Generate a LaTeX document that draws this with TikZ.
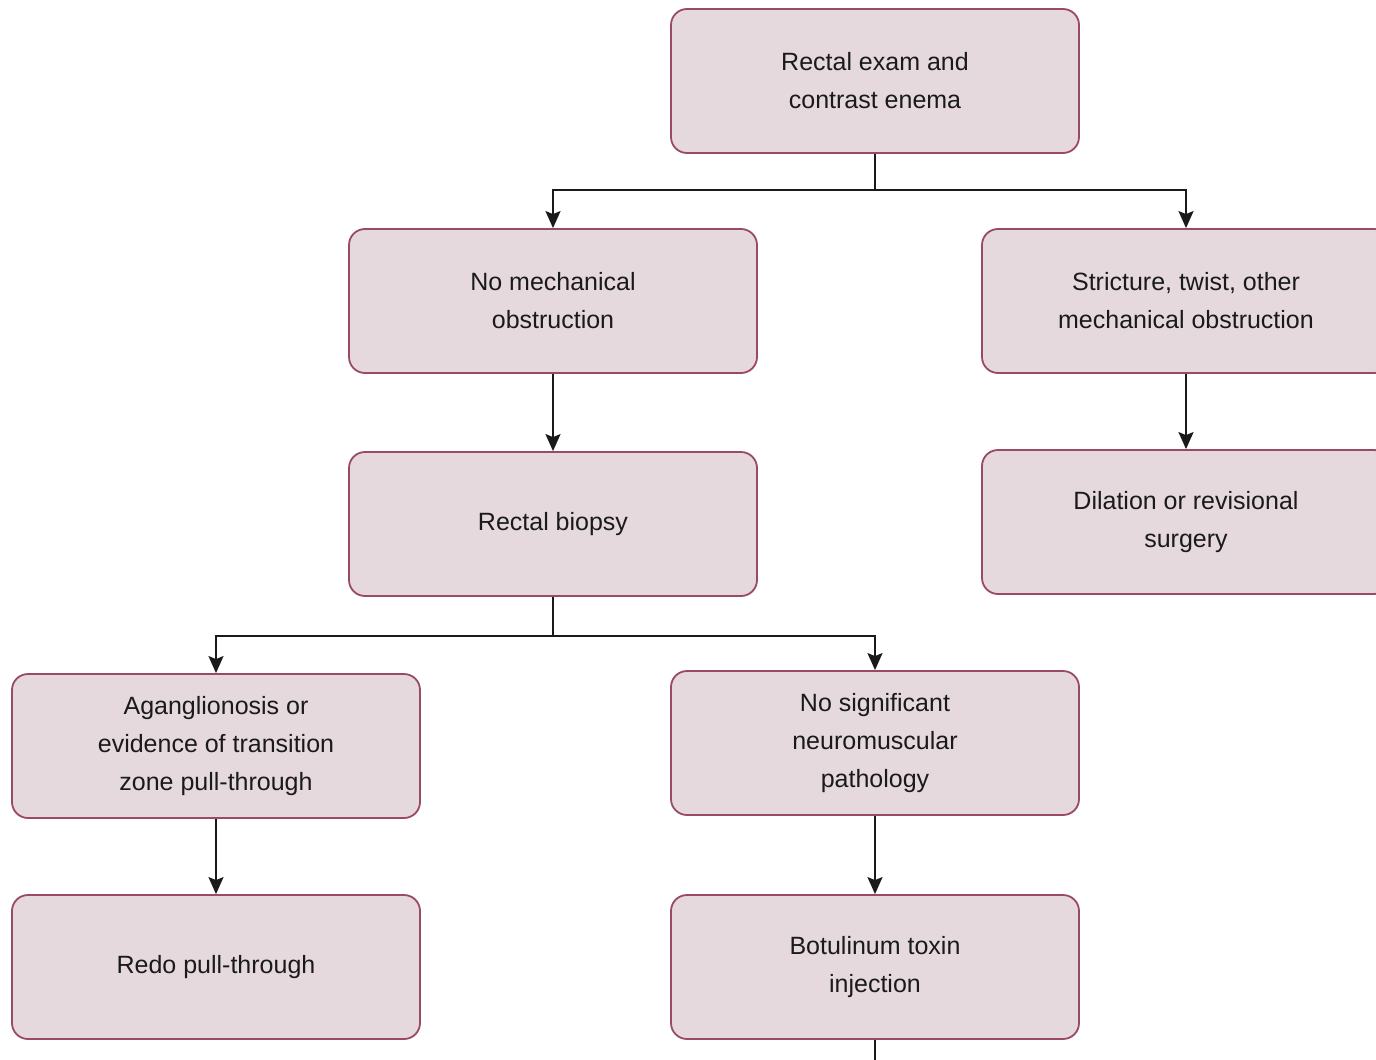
\documentclass[tikz,border=0pt]{standalone}
\usepackage{fontspec}
\setmainfont{Liberation Sans}
\usepackage{xcolor}
\usetikzlibrary{arrows.meta}

\definecolor{boxfill}{HTML}{E5D9DE}
\definecolor{boxline}{HTML}{9A4A62}
\definecolor{ink}{HTML}{1A1A1A}

\begin{document}
\begin{tikzpicture}[x=1pt, y=-1pt,
        stepbox/.style={draw=boxline, fill=boxfill, line width=1.8pt, rounded corners=16pt,
            minimum width=408pt, minimum height=144pt, align=center, text=ink,
            font=\fontsize{25}{38}\selectfont},
        link/.style={draw=ink, line width=1.9pt},
        arr/.style={link, -{Stealth[length=17pt, width=15pt, inset=3pt]}}]
        \useasboundingbox (0,0) rectangle (1376,1060);

        % First row
        \node[stepbox] (exam) at (875,81) {Rectal exam and\\contrast enema};

        % Second row
        \node[stepbox] (nomech) at (553,301) {No mechanical\\obstruction};
        \node[stepbox] (stricture) at (1186,301) {Stricture, twist, other\\mechanical obstruction};

        % Third row
        \node[stepbox] (biopsy) at (553,524) {Rectal biopsy};
        \node[stepbox] (dilation) at (1186,522) {Dilation or revisional\\surgery};

        % Fourth row
        \node[stepbox] (agang) at (216,746) {Aganglionosis or\\evidence of transition\\zone pull-through};
        \node[stepbox] (nosig) at (875,743) {No significant\\neuromuscular\\pathology};

        % Last row
        \node[stepbox] (redo) at (216,967) {Redo pull-through};
        \node[stepbox] (botox) at (875,967) {Botulinum toxin\\injection};
        \coordinate (more) at (875,1062);

        % Branches from the top box
        \draw[link] (exam.south) -- ++(0,36) coordinate (split1);
        \draw[arr] (split1) -| (nomech.north);
        \draw[arr] (split1) -| (stricture.north);

        % Straight steps down
        \draw[arr] (nomech.south) -- (biopsy.north);
        \draw[arr] (stricture.south) -- (dilation.north);

        % Branches from the biopsy
        \draw[link] (biopsy.south) -- ++(0,39) coordinate (split2);
        \draw[arr] (split2) -| (agang.north);
        \draw[arr] (split2) -| (nosig.north);

        \draw[arr] (agang.south) -- (redo.north);
        \draw[arr] (nosig.south) -- (botox.north);
        \draw[link] (botox.south) -- (more);
\end{tikzpicture}
\end{document}
